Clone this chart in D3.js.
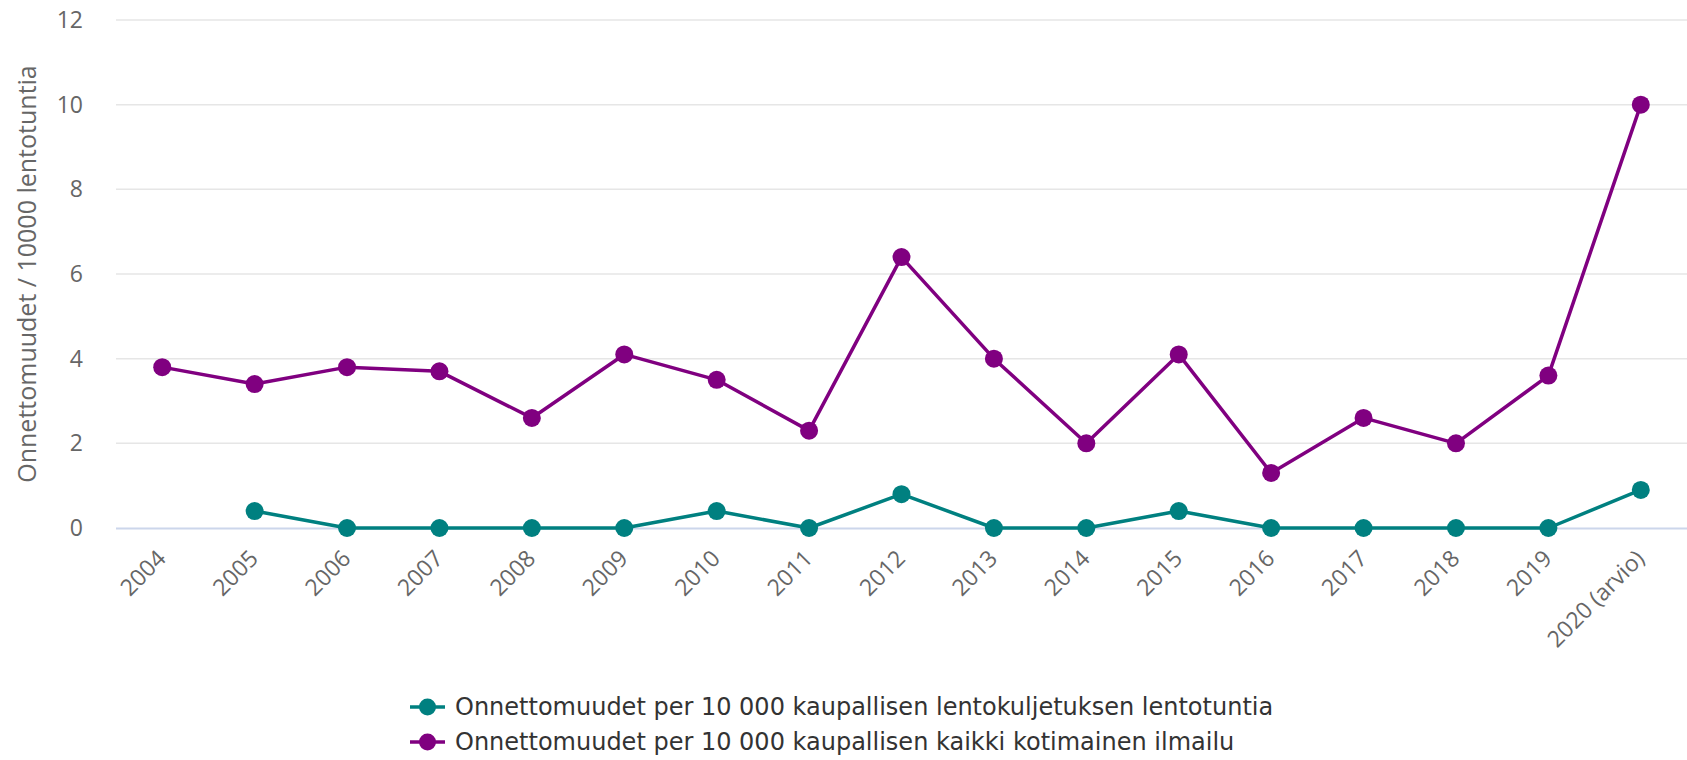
<!DOCTYPE html>
<html>
<head>
<meta charset="utf-8">
<script src="https://cdn.jsdelivr.net/npm/d3@7"></script>
<style>
  html, body { margin: 0; padding: 0; background: #fff; }
  svg { display: block; }
  .tick-lbl { font-family: "Open Sans", sans-serif; font-size: 23px; fill: #666; }
  .axis-title { font-family: "Open Sans", sans-serif; font-size: 25px; fill: #666; }
  .legend-lbl { font-family: "DejaVu Sans", sans-serif; font-size: 24px; fill: #333; }
</style>
</head>
<body>
<svg id="chart"></svg>
<script>
// ── データ ──
const years = ['2004', '2005', '2006', '2007', '2008', '2009', '2010', '2011', '2012',
  '2013', '2014', '2015', '2016', '2017', '2018', '2019', '2020 (arvio)'];
// 商業航空輸送（2004 はデータなし）
const commercial = [null, 0.4, 0, 0, 0, 0, 0.4, 0, 0.8, 0, 0, 0.4, 0, 0, 0, 0, 0.9];
// 国内航空全体
const domestic = [3.8, 3.4, 3.8, 3.7, 2.6, 4.1, 3.5, 2.3, 6.4, 4.0, 2.0, 4.1, 1.3, 2.6, 2.0, 3.6, 10.0];
const yTicks = [0, 2, 4, 6, 8, 10, 12];
const yTitle = 'Onnettomuudet / 10000 lentotuntia';

const series = [
  { name: 'Onnettomuudet per 10 000 kaupallisen lentokuljetuksen lentotuntia', color: '#008080', values: commercial },
  { name: 'Onnettomuudet per 10 000 kaupallisen kaikki kotimainen ilmailu', color: '#800080', values: domestic },
];

const W = 1687, H = 760;
const plot = { left: 116, right: 1687, top: 20, bottom: 528 };

const svg = d3.select('#chart').attr('width', W).attr('height', H);

const x = d3.scalePoint().domain(years).range([plot.left, plot.right]).padding(0.5);
const y = d3.scaleLinear().domain([0, 12]).range([plot.bottom, plot.top]);

// グリッド線
svg.append('g').selectAll('line').data(yTicks.filter(t => t > 0)).enter().append('line')
  .attr('x1', plot.left).attr('x2', plot.right)
  .attr('y1', d => y(d)).attr('y2', d => y(d))
  .attr('stroke', '#e6e6e6').attr('stroke-width', 1.5);

// Y 軸ラベル
svg.append('g').selectAll('text').data(yTicks).enter().append('text')
  .attr('class', 'tick-lbl')
  .attr('x', 83).attr('y', d => y(d) + 8)
  .attr('text-anchor', 'end')
  .text(d => d);

// Y 軸タイトル
svg.append('text')
  .attr('class', 'axis-title')
  .attr('transform', `translate(36, ${(plot.top + plot.bottom) / 2}) rotate(-90)`)
  .attr('text-anchor', 'middle')
  .text(yTitle);

// X 軸線
svg.append('line')
  .attr('x1', plot.left).attr('x2', plot.right)
  .attr('y1', plot.bottom + 0.5).attr('y2', plot.bottom + 0.5)
  .attr('stroke', '#ccd6eb').attr('stroke-width', 2);

// X 軸ラベル（-45° 回転）
svg.append('g').selectAll('text').data(years).enter().append('text')
  .attr('class', 'tick-lbl')
  .attr('text-anchor', 'end')
  .attr('transform', d => `translate(${x(d) + 5}, ${plot.bottom + 32}) rotate(-45)`)
  .text(d => d);

// 折れ線 + マーカー
const line = d3.line()
  .defined(d => d.v !== null)
  .x(d => x(d.year)).y(d => y(d.v));

series.forEach(s => {
  const pts = years.map((year, i) => ({ year, v: s.values[i] }));
  svg.append('path').datum(pts)
    .attr('fill', 'none').attr('stroke', s.color)
    .attr('stroke-width', 3.5).attr('stroke-linejoin', 'round')
    .attr('d', line);
  svg.append('g').selectAll('circle').data(pts.filter(p => p.v !== null)).enter().append('circle')
    .attr('cx', d => x(d.year)).attr('cy', d => y(d.v))
    .attr('r', 9).attr('fill', s.color);
});

// 凡例
const legend = svg.append('g').attr('transform', 'translate(410, 0)');
series.forEach((s, i) => {
  const cy = 707 + i * 35;
  const g = legend.append('g');
  g.append('line').attr('x1', 0).attr('x2', 35).attr('y1', cy).attr('y2', cy)
    .attr('stroke', s.color).attr('stroke-width', 3.5);
  g.append('circle').attr('cx', 17.5).attr('cy', cy).attr('r', 8.5).attr('fill', s.color);
  g.append('text').attr('class', 'legend-lbl')
    .attr('x', 45).attr('y', cy + 8).text(s.name);
});
</script>
</body>
</html>
